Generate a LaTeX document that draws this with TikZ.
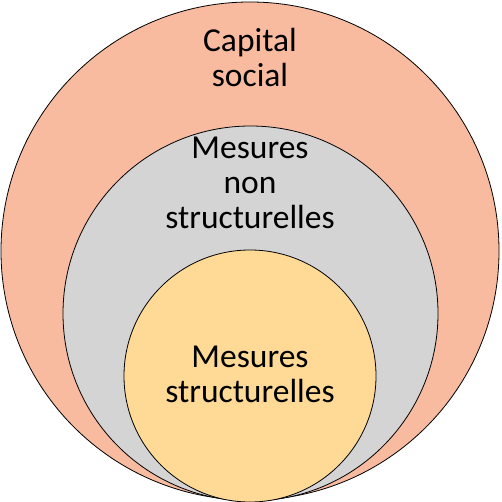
\documentclass[tikz,border=0pt]{standalone}
\usepackage{fontspec}
\setmainfont{Carlito}
\definecolor{outerc}{HTML}{F8BBA0}
\definecolor{midc}{HTML}{D4D4D4}
\definecolor{innerc}{HTML}{FFDA96}
\begin{document}
\begin{tikzpicture}[x=1pt,y=-1pt,
  ring/.style={circle, draw=black, line width=0.8pt, inner sep=0pt},
  lbl/.style={align=center, inner sep=0pt, font=\fontsize{33.5}{35}\selectfont, anchor=base}]
\useasboundingbox (0,0) rectangle (501,502);
\node[ring, fill=outerc, minimum size=498pt] (outer) at (250,251) {};
\node[ring, fill=midc, minimum size=375pt] (mid) at (250.5,313.5) {};
\node[ring, fill=innerc, minimum size=252pt] (inner) at (250,376) {};
\node[lbl] (t1) at (250,87) {Capital\\social};
\node[lbl] (t2) at (250,229) {Mesures\\non\\structurelles};
\node[lbl] (t3) at (250,402) {Mesures\\structurelles};
\end{tikzpicture}
\end{document}
